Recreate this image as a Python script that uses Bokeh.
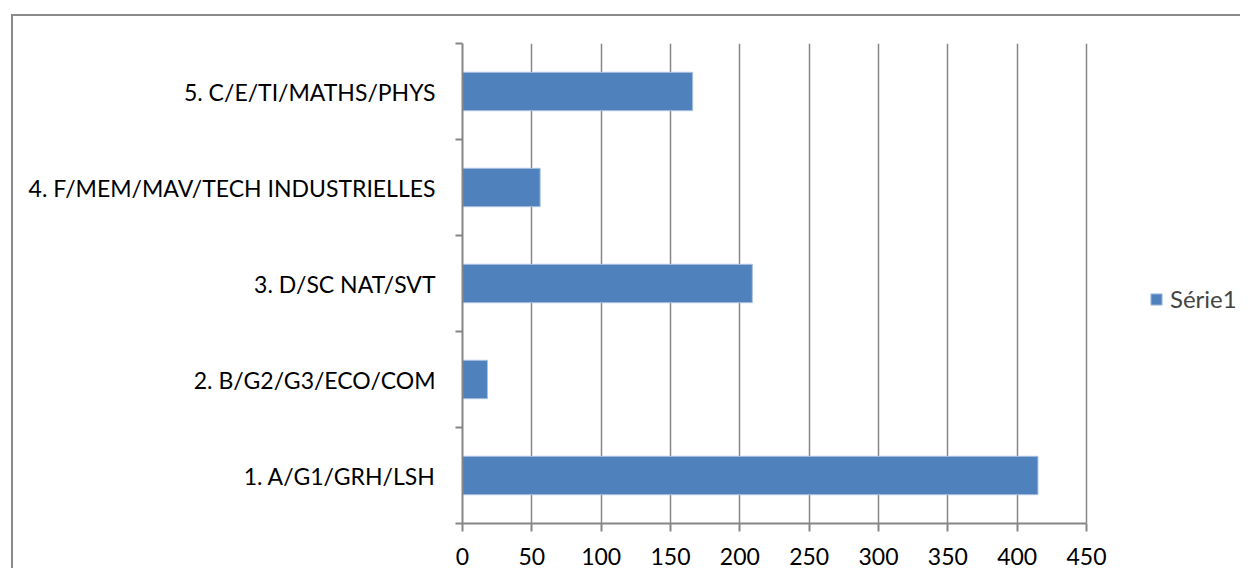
from bokeh.plotting import figure
from bokeh.models import FixedTicker, Legend, LegendItem, ColumnDataSource
from bokeh.embed import file_html
from bokeh.resources import INLINE

# ---- data ----
categories = ["1. A/G1/GRH/LSH", "2. B/G2/G3/ECO/COM", "3. D/SC NAT/SVT",
              "4. F/MEM/MAV/TECH INDUSTRIELLES", "5. C/E/TI/MATHS/PHYS"]
values = [415, 18, 209, 56, 166]
x_ticks = [0, 50, 100, 150, 200, 250, 300, 350, 400, 450]
series_name = "Série1"

FONT = "Lato"
GRAY = "#868686"

# frame spans the plot area and the legend area; axis is bounded to 0..450
PLOT_LEFT, AXIS_RIGHT, FIG_W, FIG_H = 462, 1086, 1240, 568
x_max = x_ticks[-1] * (FIG_W - PLOT_LEFT) / (AXIS_RIGHT - PLOT_LEFT)

positions = list(range(1, len(categories) + 1))
src = ColumnDataSource(dict(y=positions, right=values, cat=categories))

p = figure(width=FIG_W, height=FIG_H, output_backend="svg", toolbar_location=None,
           x_range=(0, x_max), y_range=(0.5, len(categories) + 0.5),
           min_border_left=PLOT_LEFT, min_border_right=0,
           min_border_top=43, min_border_bottom=45)
p.outline_line_color = None
p.background_fill_color = "white"
p.border_fill_color = None
# chart-area border (top and left edges visible, like the reference crop)
p.styles = {
    "background-color": "white",
    "background-image": "linear-gradient(#8a8a8a, #8a8a8a), linear-gradient(#8a8a8a, #8a8a8a)",
    "background-size": "100% 2px, 2px 100%",
    "background-position": "11px 14px, 11px 14px",
    "background-repeat": "no-repeat",
}

r = p.hbar(y="y", right="right", left=0, height=0.4, source=src,
           fill_color="#4F81BD", line_color="#A9C2E0", line_width=1)

# x axis
xa = p.xaxis[0]
xa.ticker = FixedTicker(ticks=x_ticks)
xa.bounds = (x_ticks[0], x_ticks[-1])
xa.axis_line_color = GRAY
xa.axis_line_width = 2
xa.major_tick_line_color = GRAY
xa.major_tick_line_width = 2
xa.major_tick_in = 0
xa.major_tick_out = 8
xa.minor_tick_line_color = None
xa.major_label_text_font = FONT
xa.major_label_text_font_size = "23px"
xa.major_label_text_color = "black"
xa.major_label_standoff = 16

# y axis
ya = p.yaxis[0]
ya.ticker = FixedTicker(ticks=positions,
                        minor_ticks=[i + 0.5 for i in range(len(categories) + 1)])
ya.major_label_overrides = {pos: cat for pos, cat in zip(positions, categories)}
ya.axis_line_color = GRAY
ya.axis_line_width = 2
ya.major_tick_line_color = None
ya.major_tick_in = 0
ya.major_tick_out = 0
ya.minor_tick_line_color = GRAY
ya.minor_tick_line_width = 2
ya.minor_tick_in = 0
ya.minor_tick_out = 7
ya.major_label_text_font = FONT
ya.major_label_text_font_size = "23px"
ya.major_label_text_color = "black"
ya.major_label_standoff = 20

p.xgrid.ticker = FixedTicker(ticks=x_ticks)
p.xgrid.grid_line_color = GRAY
p.xgrid.grid_line_width = 1.5
p.ygrid.grid_line_color = None

legend = Legend(items=[LegendItem(label=series_name, renderers=[r])],
                location=(687, 210), padding=0, margin=0, spacing=0,
                glyph_width=14, glyph_height=14, label_standoff=7,
                label_text_font=FONT, label_text_font_size="24px",
                border_line_color=None, background_fill_alpha=0)
p.add_layout(legend, "center")

open("out.html", "w").write(file_html(p, INLINE))
